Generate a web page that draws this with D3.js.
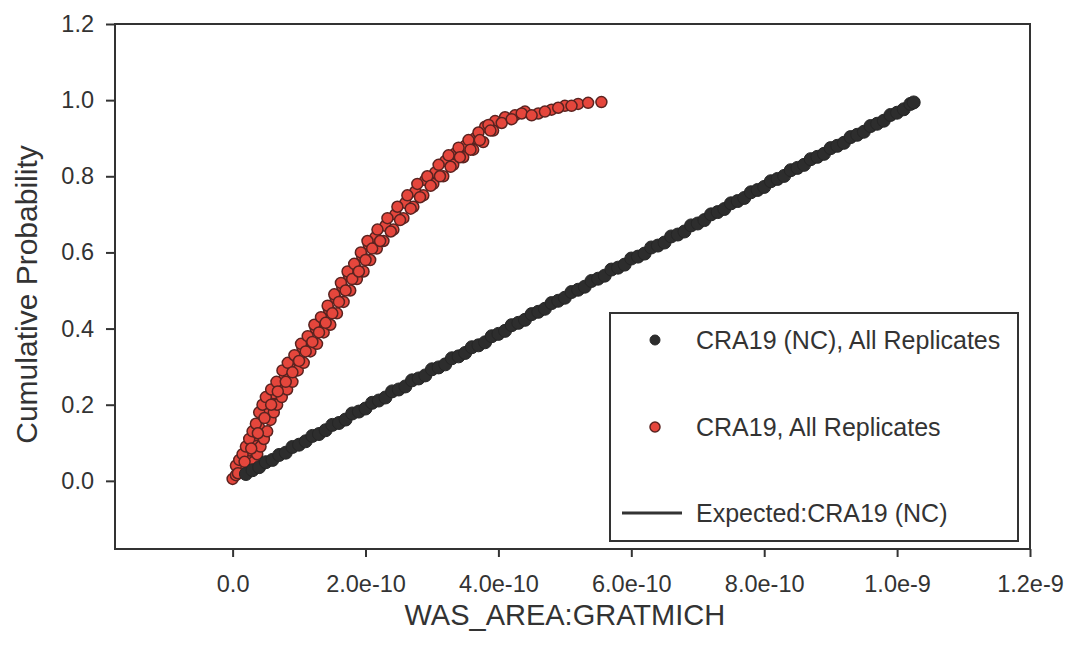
<!DOCTYPE html>
<html>
<head>
<meta charset="utf-8">
<script src="https://cdn.jsdelivr.net/npm/d3@7"></script>
<style>
  body { margin: 0; background: #fff; }
  svg text { font-family: Arial, "Liberation Sans", sans-serif; fill: #333; }
</style>
</head>
<body>
<svg id="chart" width="1070" height="648"></svg>
<script>
// x values are in units of 1e-10
var xTicks = [0, 2, 4, 6, 8, 10, 12]
var xTickLabels = ['0.0', '2.0e-10', '4.0e-10', '6.0e-10', '8.0e-10', '1.0e-9', '1.2e-9']
var yTicks = [0, 0.2, 0.4, 0.6, 0.8, 1.0, 1.2]

// CRA19 (NC), All Replicates
var blackX = [0.2, 0.3, 0.4, 0.5, 0.6, 0.7, 0.8, 0.9, 1.0, 1.1, 1.2, 1.3, 1.4, 1.5, 1.6, 1.7, 1.8, 1.9, 2.0, 2.1, 2.2,
  2.3, 2.4, 2.5, 2.6, 2.7, 2.8, 2.9, 3.0, 3.1, 3.2, 3.3, 3.4, 3.5, 3.6, 3.7, 3.8, 3.9, 4.0, 4.1, 4.2,
  4.3, 4.4, 4.5, 4.6, 4.7, 4.8, 4.9, 5.0, 5.1, 5.2, 5.3, 5.4, 5.5, 5.6, 5.7, 5.8, 5.9, 6.0, 6.1, 6.2,
  6.3, 6.4, 6.5, 6.6, 6.7, 6.8, 6.9, 7.0, 7.1, 7.2, 7.3, 7.4, 7.5, 7.6, 7.7, 7.8, 7.9, 8.0, 8.1, 8.2,
  8.3, 8.4, 8.5, 8.6, 8.7, 8.8, 8.9, 9.0, 9.1, 9.2, 9.3, 9.4, 9.5, 9.6, 9.7, 9.8, 9.9, 10.0, 10.1, 10.2, 10.25]
var blackY = [0.018, 0.028, 0.036, 0.049, 0.055, 0.068, 0.074, 0.089, 0.095, 0.104, 0.118, 0.123, 0.133, 0.147, 0.152, 0.161, 0.177, 0.182, 0.190, 0.205, 0.211,
  0.219, 0.235, 0.240, 0.248, 0.264, 0.269, 0.277, 0.293, 0.298, 0.306, 0.322, 0.327, 0.336, 0.351, 0.356, 0.364, 0.380, 0.386, 0.394, 0.409,
  0.415, 0.423, 0.438, 0.444, 0.452, 0.467, 0.473, 0.481, 0.496, 0.502, 0.510, 0.525, 0.531, 0.539, 0.555, 0.560, 0.568, 0.584, 0.589, 0.597,
  0.613, 0.618, 0.626, 0.642, 0.647, 0.655, 0.671, 0.676, 0.685, 0.700, 0.706, 0.714, 0.729, 0.735, 0.743, 0.758, 0.764, 0.772, 0.787, 0.793,
  0.801, 0.816, 0.822, 0.830, 0.845, 0.851, 0.859, 0.874, 0.880, 0.888, 0.903, 0.909, 0.917, 0.932, 0.938, 0.946, 0.961, 0.967, 0.976, 0.990, 0.994]

// CRA19, All Replicates (overlapping replicate runs)
var redRep1 = [[0.0, 0.005], [0.05, 0.015], [0.1, 0.03], [0.15, 0.045], [0.2, 0.06], [0.25, 0.08], [0.3, 0.10], [0.35, 0.12], [0.4, 0.14], [0.45, 0.17],
  [0.5, 0.19], [0.55, 0.21], [0.62, 0.23], [0.7, 0.25], [0.78, 0.27], [0.86, 0.30], [0.95, 0.32], [1.05, 0.35], [1.15, 0.37], [1.25, 0.40],
  [1.35, 0.42], [1.45, 0.45], [1.55, 0.48], [1.65, 0.51], [1.75, 0.54], [1.85, 0.56], [1.95, 0.59], [2.05, 0.62], [2.15, 0.64], [2.3, 0.67],
  [2.45, 0.70], [2.6, 0.73], [2.75, 0.76], [2.9, 0.79], [3.05, 0.81], [3.2, 0.84], [3.35, 0.86], [3.5, 0.88], [3.65, 0.90], [3.8, 0.93],
  [3.95, 0.945], [4.1, 0.955], [4.25, 0.96], [4.4, 0.97], [4.6, 0.965], [4.8, 0.975], [5.0, 0.985], [5.2, 0.99], [5.35, 0.993], [5.55, 0.995]]
var redRep2 = [[0.27, 0.035], [0.32, 0.05], [0.37, 0.07], [0.42, 0.09], [0.47, 0.11], [0.52, 0.13], [0.57, 0.16], [0.62, 0.18], [0.67, 0.20], [0.74, 0.22],
  [0.82, 0.24], [0.9, 0.26], [0.98, 0.29], [1.07, 0.31], [1.17, 0.34], [1.27, 0.36], [1.37, 0.39], [1.47, 0.41], [1.57, 0.44], [1.67, 0.47],
  [1.77, 0.50], [1.87, 0.53], [1.97, 0.55], [2.07, 0.58], [2.17, 0.61], [2.27, 0.63], [2.42, 0.66], [2.57, 0.69], [2.72, 0.72], [2.87, 0.75],
  [3.02, 0.78], [3.17, 0.80], [3.32, 0.83], [3.47, 0.85], [3.62, 0.87], [3.77, 0.89], [3.92, 0.92]]
var redRep3 = [[0.05, 0.04], [0.1, 0.055], [0.15, 0.07], [0.2, 0.09], [0.25, 0.11], [0.3, 0.13], [0.35, 0.15], [0.4, 0.18], [0.45, 0.20], [0.5, 0.22],
  [0.58, 0.24], [0.66, 0.26], [0.75, 0.29], [0.83, 0.31], [0.93, 0.33], [1.03, 0.36], [1.13, 0.38], [1.23, 0.41], [1.33, 0.43], [1.43, 0.46],
  [1.53, 0.49], [1.63, 0.52], [1.73, 0.55], [1.83, 0.57], [1.93, 0.60], [2.03, 0.63], [2.18, 0.66], [2.33, 0.69], [2.48, 0.72], [2.63, 0.75],
  [2.78, 0.78], [2.93, 0.80], [3.1, 0.83], [3.25, 0.855], [3.4, 0.875], [3.55, 0.895], [3.7, 0.915], [3.85, 0.935]]
var redRep4 = [[0.08, 0.02], [0.18, 0.05], [0.28, 0.085], [0.38, 0.125], [0.48, 0.165], [0.58, 0.2], [0.68, 0.235], [0.8, 0.26], [0.9, 0.285], [1.0, 0.315],
  [1.1, 0.34], [1.2, 0.365], [1.3, 0.39], [1.4, 0.415], [1.5, 0.44], [1.6, 0.47], [1.7, 0.5], [1.8, 0.53], [1.9, 0.55], [2.0, 0.58],
  [2.1, 0.61], [2.22, 0.63], [2.38, 0.655], [2.52, 0.685], [2.68, 0.715], [2.82, 0.745], [2.98, 0.775], [3.12, 0.80], [3.28, 0.825], [3.42, 0.85],
  [3.58, 0.87], [3.72, 0.895], [3.88, 0.92], [4.05, 0.94], [4.2, 0.95], [4.35, 0.965], [4.5, 0.96], [4.7, 0.97], [4.9, 0.98], [5.1, 0.985]]

// Expected:CRA19 (NC)
var expectedLine = [[0.2, 0.018], [10.25, 0.994]]

var legendLabels = ['CRA19 (NC), All Replicates', 'CRA19, All Replicates', 'Expected:CRA19 (NC)']

var margin = {top: 24, right: 40, bottom: 99, left: 115}
var width = 1070 - margin.left - margin.right
var height = 648 - margin.top - margin.bottom

var x = d3.scaleLinear().domain([-1.77, 12]).range([0, width])
var y = d3.scaleLinear().domain([-0.179, 1.2]).range([height, 0])

var svg = d3.select('#chart')
var g = svg.append('g').attr('transform', 'translate(' + margin.left + ',' + margin.top + ')')

// frame
g.append('rect')
  .attr('width', width).attr('height', height)
  .attr('fill', 'none').attr('stroke', '#333').attr('stroke-width', 2)

// axes
var xAxis = g.append('g')
  .attr('transform', 'translate(0,' + height + ')')
  .call(d3.axisBottom(x).tickValues(xTicks).tickSize(8).tickPadding(18)
    .tickFormat(function (d, i) { return xTickLabels[i] }))
var yAxis = g.append('g')
  .call(d3.axisLeft(y).tickValues(yTicks).tickSize(9).tickPadding(12)
    .tickFormat(d3.format('.1f')))
;[xAxis, yAxis].forEach(function (a) {
  a.select('.domain').remove()
  a.selectAll('line').attr('stroke', '#333').attr('stroke-width', 2)
  a.selectAll('text').attr('font-size', 23.5).attr('fill', '#333')
    .style('font-family', 'Arial, "Liberation Sans", sans-serif')
})

// axis titles
svg.append('text')
  .attr('x', margin.left + x(5.0)).attr('y', 625)
  .attr('text-anchor', 'middle').attr('font-size', 29)
  .text('WAS_AREA:GRATMICH')
svg.append('text')
  .attr('transform', 'translate(37,' + (margin.top + height / 2 + 8) + ') rotate(-90)')
  .attr('text-anchor', 'middle').attr('font-size', 30)
  .text('Cumulative Probability')

// expected line
g.append('path')
  .attr('d', d3.line().x(function (d) { return x(d[0]) }).y(function (d) { return y(d[1]) })(expectedLine))
  .attr('stroke', '#333').attr('stroke-width', 2.5).attr('fill', 'none')

// red replicates
var redPoints = redRep1.concat(redRep2, redRep3, redRep4)
g.append('g').selectAll('circle')
  .data(redPoints)
  .enter().append('circle')
  .attr('cx', function (d) { return x(d[0]) })
  .attr('cy', function (d) { return y(d[1]) })
  .attr('r', 5.5)
  .attr('fill', '#e5463c')
  .attr('stroke', '#5a2320')
  .attr('stroke-width', 1.5)

// black points
g.append('g').selectAll('circle')
  .data(blackX)
  .enter().append('circle')
  .attr('cx', function (d) { return x(d) })
  .attr('cy', function (d, i) { return y(blackY[i]) })
  .attr('r', 6.5)
  .attr('fill', '#2d2d2d')
  .attr('stroke', '#262626')
  .attr('stroke-width', 1)

// legend
var lg = svg.append('g').attr('transform', 'translate(610,313)')
lg.append('rect')
  .attr('width', 408).attr('height', 228)
  .attr('fill', '#fff').attr('stroke', '#333').attr('stroke-width', 2)
lg.append('circle').attr('cx', 45).attr('cy', 27).attr('r', 5)
  .attr('fill', '#2d2d2d').attr('stroke', '#262626')
lg.append('circle').attr('cx', 45).attr('cy', 114).attr('r', 5)
  .attr('fill', '#e5463c').attr('stroke', '#5a2320').attr('stroke-width', 1.5)
lg.append('line').attr('x1', 12).attr('x2', 72).attr('y1', 200).attr('y2', 200)
  .attr('stroke', '#333').attr('stroke-width', 3)
lg.selectAll('text.lbl')
  .data(legendLabels)
  .enter().append('text')
  .attr('class', 'lbl')
  .attr('x', 86)
  .attr('y', function (d, i) { return [27, 114, 200][i] })
  .attr('dy', '0.35em')
  .attr('font-size', 25)
  .text(function (d) { return d })
</script>
</body>
</html>
